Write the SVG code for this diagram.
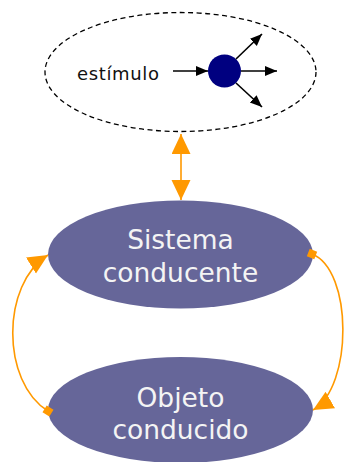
<svg xmlns="http://www.w3.org/2000/svg" width="344" height="462" viewBox="0 0 344 462">
<style>
.node{fill:#666699}
.lbl{font-family:"DejaVu Sans","Verdana",sans-serif;font-size:26.5px;fill:#f4f4f4;text-anchor:middle}
.orange{fill:none;stroke:#ff9900;stroke-width:1.6}
.blk{fill:none;stroke:#000;stroke-width:1.6}
</style>
<defs>
<marker id="oarr" markerUnits="userSpaceOnUse" markerWidth="22" markerHeight="20" refX="20" refY="9.5" orient="auto">
<path d="M0,0 L20,9.5 L0,19 Z" fill="#ff9900"/>
</marker>
<marker id="oarrs" markerUnits="userSpaceOnUse" markerWidth="22" markerHeight="20" refX="20" refY="9.5" orient="auto-start-reverse">
<path d="M0,0 L20,9.5 L0,19 Z" fill="#ff9900"/>
</marker>
<marker id="osq" markerUnits="userSpaceOnUse" markerWidth="10" markerHeight="10" refX="5" refY="5" orient="auto">
<rect x="1" y="1" width="8" height="8" fill="#ff9900"/>
</marker>
<marker id="barr" markerUnits="userSpaceOnUse" markerWidth="13" markerHeight="11" refX="12" refY="5" orient="auto">
<path d="M0,0 L12,5 L0,10 Z" fill="#000"/>
</marker>
</defs>
<g id="estimulo">
<ellipse cx="180.5" cy="72" rx="135.5" ry="59.5" fill="#fff" stroke="#000" stroke-width="1.3" stroke-dasharray="5,3.5"/>
<text x="77" y="80" font-family="DejaVu Sans,Verdana,sans-serif" font-size="18" fill="#111" textLength="82">estímulo</text>
<line x1="173" y1="71" x2="208" y2="71" class="blk" marker-end="url(#barr)"/>
<circle cx="224.5" cy="71" r="16.5" fill="#000080"/>
<line x1="236" y1="59" x2="262" y2="34" class="blk" marker-end="url(#barr)"/>
<line x1="241" y1="71" x2="277" y2="71" class="blk" marker-end="url(#barr)"/>
<line x1="236" y1="83" x2="262" y2="107" class="blk" marker-end="url(#barr)"/>
</g>
<g id="sistema">
<ellipse class="node" cx="180.5" cy="254.5" rx="132.5" ry="54"/>
<text class="lbl" x="180.5" y="249">Sistema</text>
<text class="lbl" x="180.5" y="281.5">conducente</text>
</g>
<g id="objeto">
<ellipse class="node" cx="180.5" cy="410" rx="132.5" ry="53"/>
<text class="lbl" x="180.5" y="406.5">Objeto</text>
<text class="lbl" x="180.5" y="439">conducido</text>
</g>
<g id="connectors">
<line x1="181" y1="134" x2="181" y2="200" class="orange" marker-start="url(#oarrs)" marker-end="url(#oarr)"/>
<path d="M48,411 C1,382 1,284 48,255" class="orange" marker-start="url(#osq)" marker-end="url(#oarr)"/>
<path d="M312,254 C353,270 353,387 313,410" class="orange" marker-start="url(#osq)" marker-end="url(#oarr)"/>
</g>
</svg>
